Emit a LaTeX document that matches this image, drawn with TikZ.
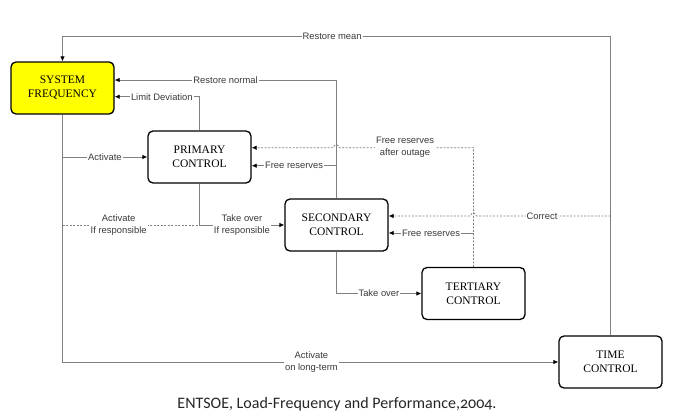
\documentclass[tikz,border=0pt]{standalone}
\usepackage{fontspec}
\setmainfont{Liberation Serif}
\newfontfamily\lblfont{Liberation Sans}
\newfontfamily\capfont[Numbers=OldStyle]{Carlito}
\usetikzlibrary{arrows.meta}
\definecolor{linegray}{HTML}{808080}
\definecolor{labeltext}{HTML}{3A3A3A}
\definecolor{sysyellow}{HTML}{FFFF00}
\begin{document}
\begin{tikzpicture}[x=1pt,y=-1pt,
 box/.style={draw=black, line width=1.3pt, rounded corners=5pt, minimum width=103pt, minimum height=52pt, inner sep=0pt, align=center, font=\fontsize{11.5}{14}\selectfont},
 conn/.style={draw=linegray, line width=0.8pt},
 dsh/.style={conn, dash pattern=on 2pt off 1.5pt},
 arr/.style={-{Latex[length=5pt,width=4.5pt,color=black]}},
 lbl/.style={fill=white, inner sep=1pt, text=labeltext, align=center, font=\lblfont\fontsize{9.4}{12}\selectfont}]
\useasboundingbox (0,0) rectangle (686,418);

% boxes
\node[box, fill=sysyellow] (sys) at (62.5,88) {SYSTEM\\FREQUENCY};
\node[box, fill=white] (pri) at (199.5,157) {PRIMARY\\CONTROL};
\node[box, fill=white] (sec) at (336.5,225) {SECONDARY\\CONTROL};
\node[box, fill=white] (ter) at (473.5,293.5) {TERTIARY\\CONTROL};
\node[box, fill=white] (tim) at (610.5,362) {TIME\\CONTROL};

% restore mean
\coordinate (rmR) at (610.5,36.7);
\coordinate (rmL) at (62.5,36.7);
\draw[conn,arr] (tim.north) -- (rmR) -- node[lbl,pos=0.508]{Restore mean} (rmL) -- (sys.north);

% restore normal
\coordinate (rnC) at (336.5,80);
\draw[conn,arr] (sec.north) -- (rnC) -- node[lbl,pos=0.5]{Restore normal} (sys.east |- rnC);

% limit deviation
\coordinate (ldC) at (199.5,96.7);
\draw[conn,arr] (pri.north) -- (ldC) -- node[lbl,pos=0.444]{Limit Deviation} (sys.east |- ldC);

% activate on long-term
\draw[conn,arr] (sys.south) |- node[lbl,pos=0.751]{Activate\\on long-term} (tim.west);

% activate primary
\draw[conn,arr] (sys.south |- pri.west) -- node[lbl]{Activate} (pri.west);

% activate if responsible (dashed)
\coordinate (irL) at (sys.south |- sec.west);
\coordinate (irR) at (pri.south |- sec.west);
\draw[dsh] (irL) -- node[lbl,pos=0.41]{Activate\\If responsible} (irR);

% take over if responsible
\draw[conn,arr] (pri.south) |- node[lbl,pos=0.75]{Take over\\If responsible} (sec.west);

% free reserves to primary
\coordinate (fr1) at (336.5,165.7);
\draw[conn,arr] (fr1) -- node[lbl]{Free reserves} (pri.east |- fr1);

% free reserves after outage (dashed, with jump)
\coordinate (aoC) at (473.5,147.7);
\draw[dsh,arr] (ter.north) -- (aoC) -- (339.5,147.7) .. controls (339.5,144) and (333.5,144) .. (333.5,147.7) -- (pri.east |- aoC);
\node[lbl] (aoL) at (405,147.7) {Free reserves\\after outage};

% free reserves to secondary
\coordinate (fr2) at (473.5,233);
\draw[conn,arr] (fr2) -- node[lbl]{Free reserves} (sec.east |- fr2);

% correct (dashed, with jump)
\coordinate (coC) at (610.5,216);
\draw[dsh,arr] (coC) -- (476.5,216) .. controls (476.5,212.3) and (470.5,212.3) .. (470.5,216) -- (sec.east |- coC);
\node[lbl] (coL) at (542,216) {Correct};

% take over
\draw[conn,arr] (sec.south) |- node[lbl,pos=0.75]{Take over} (ter.west);

% caption
\node[font=\capfont\fontsize{16}{18}\selectfont, text=black!85, inner sep=0pt] (cap) at (337,404) {ENTSOE, Load-Frequency and Performance,2004.};
\end{tikzpicture}
\end{document}
